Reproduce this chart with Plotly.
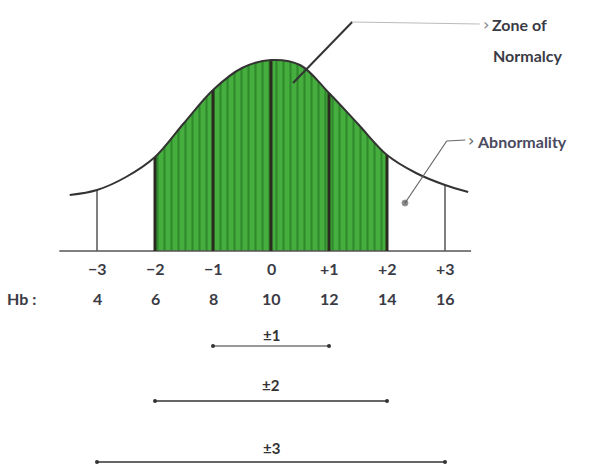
import plotly.graph_objects as go

# Bell curve sketch: heights read along the standard-deviation axis
curve_sd = [-3.47, -3.0, -2.5, -2.0, -1.5, -1.0, -0.5, 0.0, 0.5, 1.0, 1.5, 2.0, 2.5, 3.0, 3.4]
curve_h = [56, 61, 74, 94, 128, 161, 183, 191, 186, 158, 127, 96, 78, 66, 59]

sd_ticks = [-3, -2, -1, 0, 1, 2, 3]
sd_labels = ["−3", "−2", "−1", "0", "+1", "+2", "+3"]
hb_values = ["4", "6", "8", "10", "12", "14", "16"]

ranges = ["±1", "±2", "±3"]
range_width = [1, 2, 3]

INK = "#3b3b45"
height_at = dict(zip(curve_sd, curve_h))

fig = go.Figure()

# shaded zone of normality (−2 SD to +2 SD)
inner = [(s, h) for s, h in zip(curve_sd, curve_h) if -2 <= s <= 2]
fig.add_trace(go.Scatter(
    x=[p[0] for p in inner], y=[p[1] for p in inner],
    mode="lines", line=dict(shape="spline", width=0, color="rgba(0,0,0,0)"),
    fill="tozeroy", fillcolor="#41a83a",
    fillpattern=dict(shape="|", fgcolor="#2e8a2c", bgcolor="#46ae3e",
                     size=7, solidity=0.3, fillmode="replace"),
    hoverinfo="skip", showlegend=False))

# baseline
fig.add_trace(go.Scatter(x=[-3.65, 3.45], y=[0, 0], mode="lines",
                         line=dict(color="#555", width=1.5),
                         hoverinfo="skip", showlegend=False))

# vertical ordinates at each SD
for s in sd_ticks:
    inside = abs(s) <= 2
    fig.add_trace(go.Scatter(
        x=[s, s], y=[0, height_at[float(s)]], mode="lines",
        line=dict(color="#2b2a1e" if inside else "#555", width=3 if inside else 1.5),
        hoverinfo="skip", showlegend=False))

# the curve itself
fig.add_trace(go.Scatter(x=curve_sd, y=curve_h, mode="lines",
                         line=dict(shape="spline", color="#333", width=2),
                         hoverinfo="skip", showlegend=False))

annotations = []
font_main = dict(family="Lato, DejaVu Sans", size=16, color=INK)
for s, lab, hb in zip(sd_ticks, sd_labels, hb_values):
    annotations.append(dict(x=s, y=-17, text="<b>%s</b>" % lab, showarrow=False,
                            font=font_main))
    annotations.append(dict(x=s, y=-47, text="<b>%s</b>" % hb, showarrow=False,
                            font=font_main))
annotations.append(dict(x=-4.3, y=-47, text="<b>Hb :</b>", showarrow=False, font=font_main))

# ±1, ±2, ±3 span bars
bar_y = [-95, -150, -211]
lab_y = [-84, -134, -197]
for lab, w, by, ly in zip(ranges, range_width, bar_y, lab_y):
    fig.add_trace(go.Scatter(x=[-w, w], y=[by, by], mode="lines+markers",
                             line=dict(color="#333", width=1.6 if w > 1 else 1.2),
                             marker=dict(size=4, color="#333"),
                             hoverinfo="skip", showlegend=False))
    annotations.append(dict(x=0, y=ly, text="<b>%s</b>" % lab, showarrow=False,
                            font=dict(family="Lato, DejaVu Sans", size=15, color="#333")))

# callout: zone of normality
fig.add_trace(go.Scatter(x=[0.38, 1.40], y=[168, 229], mode="lines",
                         line=dict(color="#333", width=2),
                         hoverinfo="skip", showlegend=False))
fig.add_trace(go.Scatter(x=[1.40, 3.60], y=[229, 227], mode="lines",
                         line=dict(color="#bbb", width=1),
                         hoverinfo="skip", showlegend=False))
annotations.append(dict(x=3.62, y=227, text="›", showarrow=False, xanchor="left",
                        font=dict(family="DejaVu Sans", size=16, color="#888")))
annotations.append(dict(x=3.78, y=227, text="<b>Zone of</b>", showarrow=False,
                        xanchor="left", font=font_main))
annotations.append(dict(x=3.80, y=196, text="<b>Normalcy</b>", showarrow=False,
                        xanchor="left", font=font_main))

# callout: abnormality
fig.add_trace(go.Scatter(x=[2.31, 3.03], y=[48, 110], mode="lines+markers",
                         line=dict(color="#666", width=1.2),
                         marker=dict(size=[6, 0], color="#555"),
                         hoverinfo="skip", showlegend=False))
fig.add_trace(go.Scatter(x=[3.03, 3.35], y=[110, 111], mode="lines",
                         line=dict(color="#666", width=1.2),
                         hoverinfo="skip", showlegend=False))
annotations.append(dict(x=3.36, y=111, text="›", showarrow=False, xanchor="left",
                        font=dict(family="DejaVu Sans", size=16, color="#666")))
annotations.append(dict(x=3.52, y=110, text="<b>Abnormality</b>", showarrow=False,
                        xanchor="left", font=dict(family="Lato, DejaVu Sans", size=16, color="#4a4a60")))

fig.update_layout(
    width=608, height=472,
    margin=dict(l=0, r=0, t=0, b=0),
    paper_bgcolor="white", plot_bgcolor="white",
    xaxis=dict(range=[-271 / 58, 337 / 58], visible=False, fixedrange=True),
    yaxis=dict(range=[-221, 251], visible=False, fixedrange=True),
    annotations=annotations,
    showlegend=False,
)

fig.write_html("out.html")
